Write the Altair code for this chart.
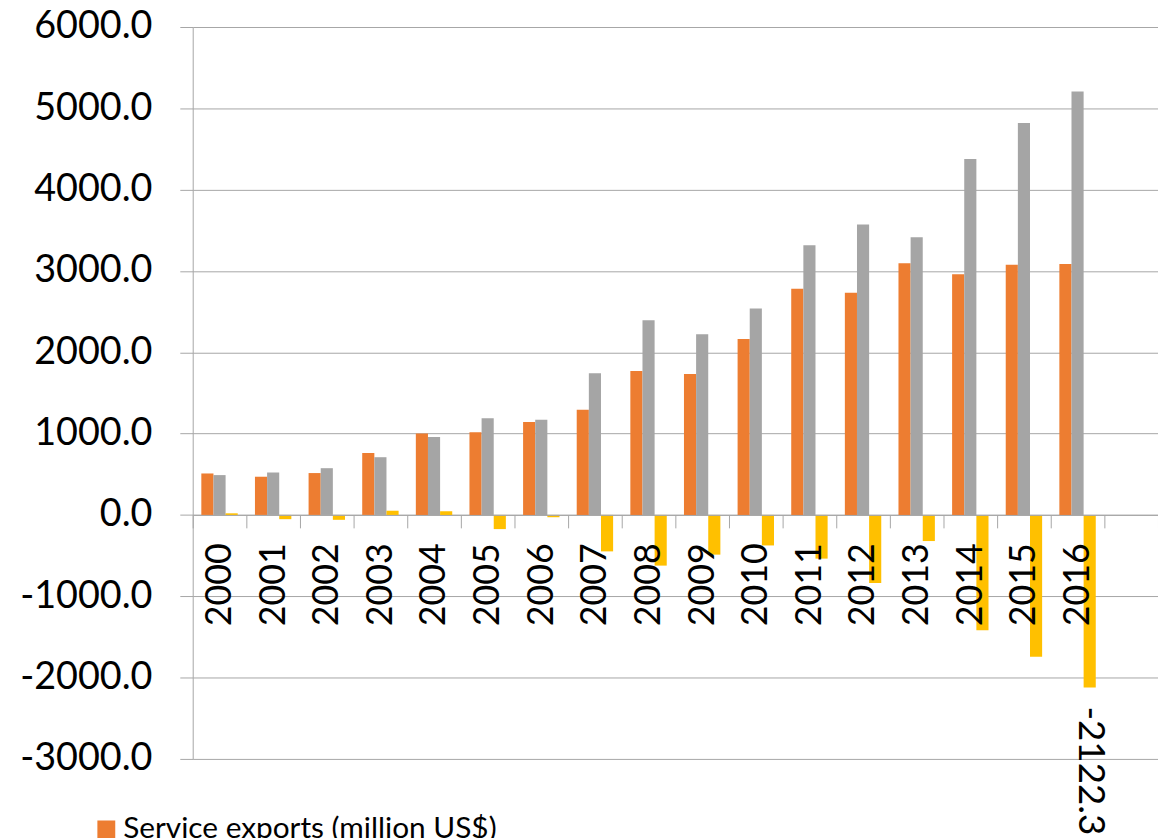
import altair as alt
import pandas as pd

years = [str(y) for y in range(2000, 2017)]
exports = [510, 470, 515, 762, 1003, 1016, 1142, 1294, 1770, 1734, 2165, 2780, 2732, 3094, 2960, 3077, 3085]
imports = [490, 522, 575, 710, 958, 1190, 1170, 1742, 2393, 2222, 2540, 3317, 3570, 3415, 4378, 4821, 5207]
balance = [20, -52, -60, 52, 45, -174, -28, -448, -623, -488, -375, -537, -838, -321, -1418, -1744, -2122.3]
series = ["Service exports (million US$)", "Service imports (million US$)", "Service balance (million US$)"]
colors = ["#ED7D31", "#A5A5A5", "#FFC000"]
y_ticks = list(range(-3000, 6001, 1000))
x_domain = years + [" "]  # trailing empty category slot
labelled = {("2016", series[2]): "-2122.3"}

rows = []
for i, yr in enumerate(years):
    for s, vals in zip(series, [exports, imports, balance]):
        rows.append({"year": yr, "series": s, "value": vals[i],
                     "label": labelled.get((yr, s), "")})
df = pd.DataFrame(rows)

FONT = "Lato"
GRID = "#a6a6a6"
W, H = 972, 737
zero_from_bottom = H * 3000 / 9000

x_scale = alt.Scale(domain=x_domain, paddingInner=0, paddingOuter=0)
x_enc = alt.X(
    "year:N",
    scale=x_scale,
    axis=alt.Axis(
        title=None, orient="bottom", offset=-zero_from_bottom,
        labelAngle=270, labelAlign="right", labelBaseline="middle",
        labelFont=FONT, labelFontSize=36, labelColor="black", labelPadding=15,
        tickBand="extent", tickSize=13, tickColor=GRID, domainColor=GRID,
        grid=False, zindex=1, labelOverlap=False, labelBound=False,
    ),
)
xoff_enc = alt.XOffset("series:N", sort=series,
                       scale=alt.Scale(domain=series, paddingInner=0, paddingOuter=0.71))
y_enc = alt.Y(
    "value:Q",
    scale=alt.Scale(domain=[-3000, 6000], nice=False, zero=False),
    axis=alt.Axis(
        title=None, values=y_ticks,
        labelExpr="(datum.value < 0 ? '-' : '') + format(abs(datum.value), '.1f')",
        labelFont=FONT, labelFontSize=38, labelColor="black", labelPadding=28,
        tickSize=13, tickColor=GRID, domainColor=GRID, gridColor=GRID, grid=True,
    ),
)

bars = alt.Chart(df).mark_bar().encode(
    x=x_enc,
    xOffset=xoff_enc,
    y=y_enc,
    color=alt.Color(
        "series:N", sort=series,
        scale=alt.Scale(domain=series, range=colors),
        legend=alt.Legend(
            orient="none", legendX=-102, legendY=793, direction="vertical",
            title=None, labelFont=FONT, labelFontSize=30, labelColor="black",
            symbolType="square", symbolSize=324, symbolStrokeWidth=0,
            labelOffset=2, labelLimit=1000,
        ),
    ),
)

labels = alt.Chart(df).transform_filter("datum.label != ''").mark_text(
    angle=90, align="left", baseline="middle", dx=19,
    font=FONT, fontSize=37, color="black",
).encode(x=alt.X("year:N", scale=x_scale),
         xOffset=xoff_enc, y=alt.Y("value:Q"), text="label:N")

chart = alt.layer(bars, labels).properties(
    width=W, height=H,
    autosize=alt.AutoSizeParams(type="none"),
    padding={"left": 186, "top": 16, "right": 0, "bottom": 150},
).configure_view(stroke=None)

chart.save("out.html", embed_options={"renderer": "svg", "actions": False})
